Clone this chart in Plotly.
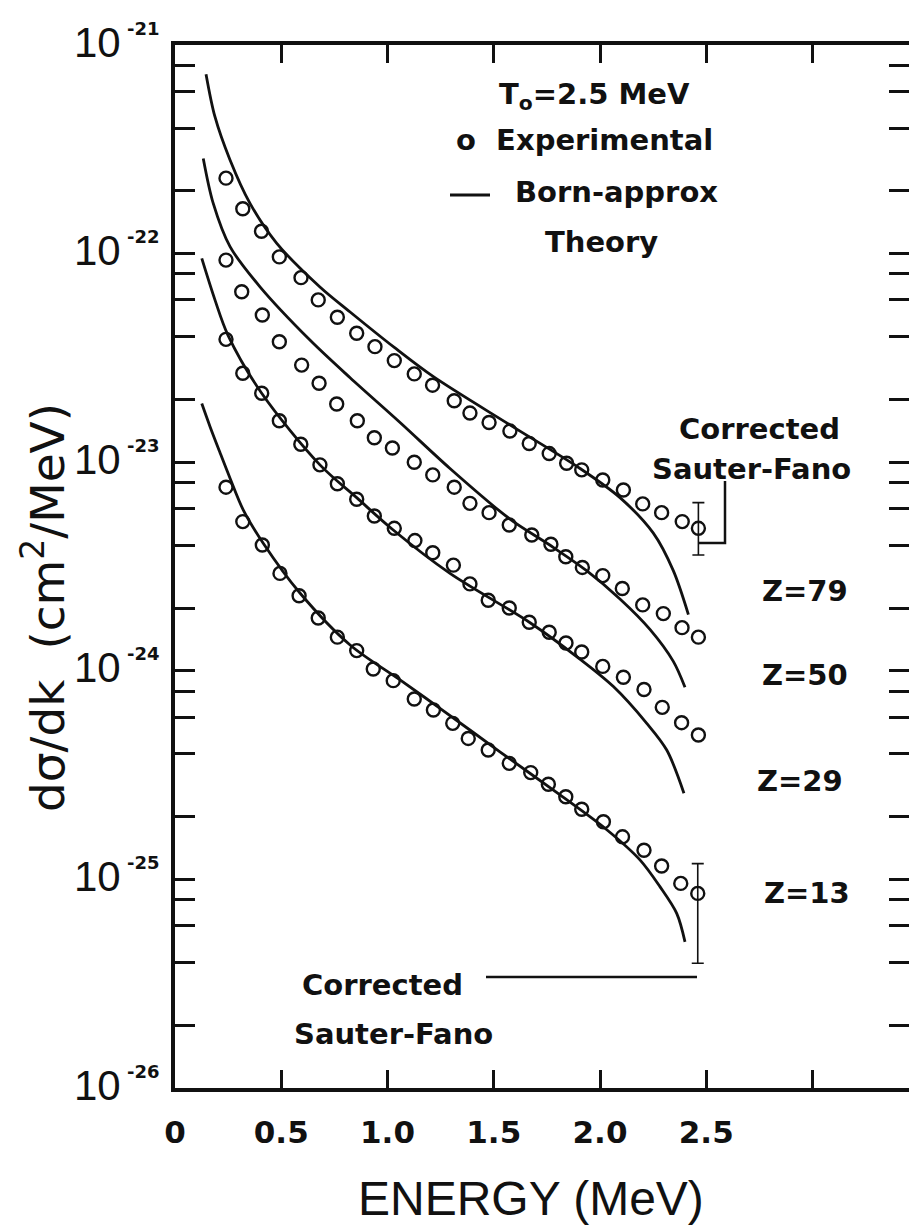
import plotly.graph_objects as go

# ---- experimental points: photon energy k (MeV) and d(sigma)/dk (cm^2/MeV) ----
E79 = [0.240, 0.319, 0.407, 0.491, 0.593, 0.674, 0.764, 0.855, 0.941, 1.032, 1.126, 1.212, 1.314,
       1.388, 1.478, 1.576, 1.667, 1.761, 1.843, 1.914, 2.013, 2.110, 2.201, 2.290, 2.387, 2.463]
S79 = [2.30e-22, 1.64e-22, 1.28e-22, 9.64e-23, 7.67e-23, 6.00e-23, 4.95e-23, 4.15e-23, 3.58e-23,
       3.07e-23, 2.65e-23, 2.34e-23, 1.97e-23, 1.72e-23, 1.55e-23, 1.41e-23, 1.23e-23, 1.10e-23,
       9.89e-24, 9.19e-24, 8.22e-24, 7.36e-24, 6.31e-24, 5.73e-24, 5.19e-24, 4.82e-24]

E50 = [0.240, 0.314, 0.411, 0.491, 0.596, 0.678, 0.761, 0.858, 0.938, 1.023, 1.126, 1.213, 1.314,
       1.388, 1.478, 1.573, 1.679, 1.769, 1.839, 1.917, 2.013, 2.105, 2.201, 2.298, 2.386, 2.463]
S50 = [9.31e-23, 6.56e-23, 5.08e-23, 3.78e-23, 2.92e-23, 2.39e-23, 1.90e-23, 1.58e-23, 1.31e-23,
       1.17e-23, 1.00e-23, 8.69e-24, 7.59e-24, 6.35e-24, 5.73e-24, 5.00e-24, 4.48e-24, 4.04e-24,
       3.52e-24, 3.13e-24, 2.86e-24, 2.48e-24, 2.07e-24, 1.88e-24, 1.61e-24, 1.45e-24]

E29 = [0.240, 0.319, 0.408, 0.491, 0.592, 0.682, 0.764, 0.855, 0.938, 1.032, 1.129, 1.213, 1.310,
       1.388, 1.474, 1.573, 1.667, 1.761, 1.840, 1.914, 2.013, 2.110, 2.207, 2.293, 2.384, 2.463]
S29 = [3.88e-23, 2.67e-23, 2.14e-23, 1.58e-23, 1.22e-23, 9.71e-24, 7.88e-24, 6.64e-24, 5.52e-24,
       4.82e-24, 4.21e-24, 3.68e-24, 3.21e-24, 2.61e-24, 2.18e-24, 2.00e-24, 1.71e-24, 1.53e-24,
       1.36e-24, 1.23e-24, 1.05e-24, 9.31e-25, 8.14e-25, 6.68e-25, 5.64e-25, 4.92e-25]

E13 = [0.240, 0.319, 0.411, 0.494, 0.584, 0.674, 0.764, 0.855, 0.933, 1.027, 1.126, 1.216, 1.307,
       1.380, 1.474, 1.573, 1.674, 1.757, 1.839, 1.914, 2.016, 2.106, 2.207, 2.290, 2.380, 2.460]
S13 = [7.59e-24, 5.19e-24, 4.01e-24, 2.93e-24, 2.29e-24, 1.79e-24, 1.45e-24, 1.25e-24, 1.02e-24,
       8.97e-25, 7.33e-25, 6.49e-25, 5.60e-25, 4.74e-25, 4.17e-25, 3.60e-25, 3.25e-25, 2.86e-25,
       2.49e-25, 2.17e-25, 1.89e-25, 1.60e-25, 1.38e-25, 1.16e-25, 9.57e-26, 8.57e-26]

# error bars on the highest-energy point (Z=79 and Z=13)
ERR79 = dict(k=2.463, val=4.82e-24, hi=6.40e-24, lo=3.59e-24)
ERR13 = dict(k=2.460, val=8.57e-26, hi=1.19e-25, lo=3.96e-26)

# ---- Born-approximation theory curves ----
K79 = [0.146, 0.188, 0.259, 0.353, 0.479, 0.682, 0.824, 1.032, 1.216, 1.576, 1.906, 2.094, 2.251,
       2.345, 2.416]
B79 = [7.25e-22, 4.53e-22, 2.81e-22, 1.74e-22, 1.12e-22, 6.92e-23, 5.25e-23, 3.55e-23, 2.57e-23,
       1.51e-23, 9.33e-24, 6.76e-24, 4.57e-24, 3.02e-24, 1.86e-24]

K50 = [0.133, 0.180, 0.259, 0.400, 0.635, 0.824, 1.059, 1.294, 1.573, 1.760, 1.937, 2.094, 2.235,
       2.345, 2.400]
B50 = [2.86e-22, 1.74e-22, 1.08e-22, 6.93e-23, 3.85e-23, 2.54e-23, 1.55e-23, 9.33e-24, 5.37e-24,
       4.03e-24, 3.02e-24, 2.21e-24, 1.58e-24, 1.11e-24, 8.34e-25]

K29 = [0.126, 0.188, 0.249, 0.408, 0.682, 0.855, 1.027, 1.294, 1.671, 1.890, 2.063, 2.220, 2.314,
       2.395]
B29 = [9.48e-23, 6.00e-23, 4.07e-23, 2.14e-23, 9.71e-24, 6.76e-24, 4.73e-24, 2.93e-24, 1.70e-24,
       1.17e-24, 8.40e-25, 5.60e-25, 4.17e-25, 2.59e-25]

K13 = [0.126, 0.165, 0.212, 0.259, 0.321, 0.416, 0.588, 0.824, 1.059, 1.247, 1.529, 1.812, 2.032,
       2.188, 2.282, 2.361, 2.400]
B13 = [1.91e-23, 1.48e-23, 1.11e-23, 8.38e-24, 5.91e-24, 4.08e-24, 2.36e-24, 1.33e-24, 9.04e-25,
       6.61e-25, 4.09e-25, 2.54e-25, 1.73e-25, 1.24e-25, 9.23e-26, 6.87e-26, 5.02e-26]

X_TICKS = [0, 0.5, 1.0, 1.5, 2.0, 2.5]
X_TICK_TEXT = ["0", "0.5", "1.0", "1.5", "2.0", "2.5"]
X_UNLABELLED = [3.0]
DECADES = [-26, -25, -24, -23, -22, -21]

# ---- figure geometry (pixels) ----
W, H = 909, 1226
L, R, T, B = 175, 0, 45, 138
PW, PH = W - L - R, H - T - B


def px(xpix):
    return (xpix - L) / PW


def py(ypix):
    return (H - B - ypix) / PH


INK = "#111111"
LETTER = "DejaVu Sans"

fig = go.Figure()

for k, b in [(K79, B79), (K50, B50), (K29, B29), (K13, B13)]:
    fig.add_trace(go.Scatter(x=k, y=b, mode="lines",
                             line=dict(color=INK, width=2.8, shape="spline", smoothing=0.9),
                             hoverinfo="skip", showlegend=False))

for e, s in [(E79, S79), (E50, S50), (E29, S29), (E13, S13)]:
    fig.add_trace(go.Scatter(x=e, y=s, mode="markers",
                             marker=dict(symbol="circle-open", size=13, color=INK,
                                         line=dict(width=2.4, color=INK)),
                             showlegend=False))

for eb in (ERR79, ERR13):
    fig.add_trace(go.Scatter(
        x=[eb["k"]], y=[eb["val"]], mode="markers",
        marker=dict(size=1, color="rgba(0,0,0,0)"),
        error_y=dict(type="data", symmetric=False,
                     array=[eb["hi"] - eb["val"]], arrayminus=[eb["val"] - eb["lo"]],
                     color=INK, thickness=1.6, width=6),
        showlegend=False, hoverinfo="skip"))

# helper trace so the right-hand tick axis is drawn
fig.add_trace(go.Scatter(x=[0], y=[1e-26], yaxis="y2", mode="markers",
                         marker=dict(size=1, color="rgba(0,0,0,0)"),
                         showlegend=False, hoverinfo="skip"))

minor_vals = [m * 10.0 ** d for d in DECADES[:-1] for m in (2, 4, 6, 8)]

axis_common = dict(ticks="inside", ticklen=20, tickwidth=3, tickcolor=INK,
                   showgrid=False, zeroline=False)

fig.update_layout(
    width=W, height=H,
    margin=dict(l=L, r=R, t=T, b=B),
    paper_bgcolor="white", plot_bgcolor="white",
    xaxis=dict(range=[0, PW / 212.5], tickvals=X_TICKS, ticktext=X_TICK_TEXT,
               showline=True, linewidth=4, linecolor=INK, mirror="ticks",
               ticks="inside", ticklen=18, tickwidth=3, tickcolor=INK,
               minor=dict(tickvals=X_UNLABELLED, ticks="inside", ticklen=18, tickwidth=3,
                          tickcolor=INK, showgrid=False),
               showgrid=False, zeroline=False, ticklabelstandoff=14,
               tickfont=dict(family=LETTER, size=31, color=INK, weight="bold")),
    yaxis=dict(type="log", range=[-26, -21], tickvals=[10.0 ** d for d in DECADES],
               showticklabels=False, showline=True, linewidth=4, linecolor=INK,
               minor=dict(tickvals=minor_vals, ticks="inside", ticklen=20, tickwidth=3,
                          tickcolor=INK, showgrid=False),
               **axis_common),
    yaxis2=dict(type="log", range=[-26, -21], overlaying="y", side="right",
                tickvals=[10.0 ** d for d in DECADES], showticklabels=False, showline=False,
                minor=dict(tickvals=minor_vals, ticks="inside", ticklen=20, tickwidth=3,
                           tickcolor=INK, showgrid=False),
                **axis_common),
)

ann = []
# decade labels 10^n on the left
for d in DECADES:
    ann.append(dict(x=0, xref="paper", y=d, yref="y", text="10", showarrow=False,
                    xanchor="right", yanchor="middle", xshift=-52, yshift=3,
                    font=dict(family="Liberation Sans", size=42, color=INK)))
    ann.append(dict(x=0, xref="paper", y=d, yref="y", text=f"-{abs(d)}", showarrow=False,
                    xanchor="left", yanchor="middle", xshift=-50, yshift=17,
                    font=dict(family=LETTER, size=18, color=INK, weight="bold")))

# axis titles
ann.append(dict(x=px(531), xref="paper", y=py(1198), yref="paper", text="ENERGY (MeV)",
                showarrow=False, xanchor="center", yanchor="middle",
                font=dict(family="Liberation Sans", size=48, color=INK)))
ann.append(dict(x=px(44), xref="paper", y=py(608), yref="paper",
                text="dσ/dk  (cm<sup>2</sup>/MeV)", textangle=-90,
                showarrow=False, xanchor="center", yanchor="middle",
                font=dict(family=LETTER, size=47, color=INK)))

bold = dict(family=LETTER, size=29, color=INK, weight="bold")
labels = [
    ("T<sub>o</sub>=2.5 MeV", 692, 96, "right"),
    ("o  Experimental", 715, 140, "right"),
    ("Born-approx", 720, 192, "right"),
    ("Theory", 660, 242, "right"),
    ("Corrected", 677, 429, "left"),
    ("Sauter-Fano", 650, 469, "left"),
    ("Z=79", 760, 591, "left"),
    ("Z=50", 760, 675, "left"),
    ("Z=29", 755, 781, "left"),
    ("Z=13", 762, 893, "left"),
    ("Corrected", 465, 985, "right"),
    ("Sauter-Fano", 495, 1034, "right"),
]
for txt, xp, yp, anchor in labels:
    ann.append(dict(x=px(xp), xref="paper", y=py(yp), yref="paper", text=txt,
                    showarrow=False, xanchor=anchor, yanchor="middle", font=bold))

fig.update_layout(annotations=ann)

# key line in front of "Born-approx"
fig.add_shape(type="line", xref="paper", yref="paper",
              x0=px(450), x1=px(490), y0=py(195), y1=py(195),
              line=dict(color=INK, width=3))

# leader lines from the "Corrected Sauter-Fano" labels to the error bars
fig.add_shape(type="path", xref="paper", yref="paper",
              path=f"M {px(725)},{py(481)} L {px(725)},{py(543)} L {px(698)},{py(543)}",
              line=dict(color=INK, width=2.5))
fig.add_shape(type="line", xref="paper", yref="paper",
              x0=px(486), x1=px(697), y0=py(977), y1=py(977),
              line=dict(color=INK, width=2.5))

fig.write_html("out.html")
